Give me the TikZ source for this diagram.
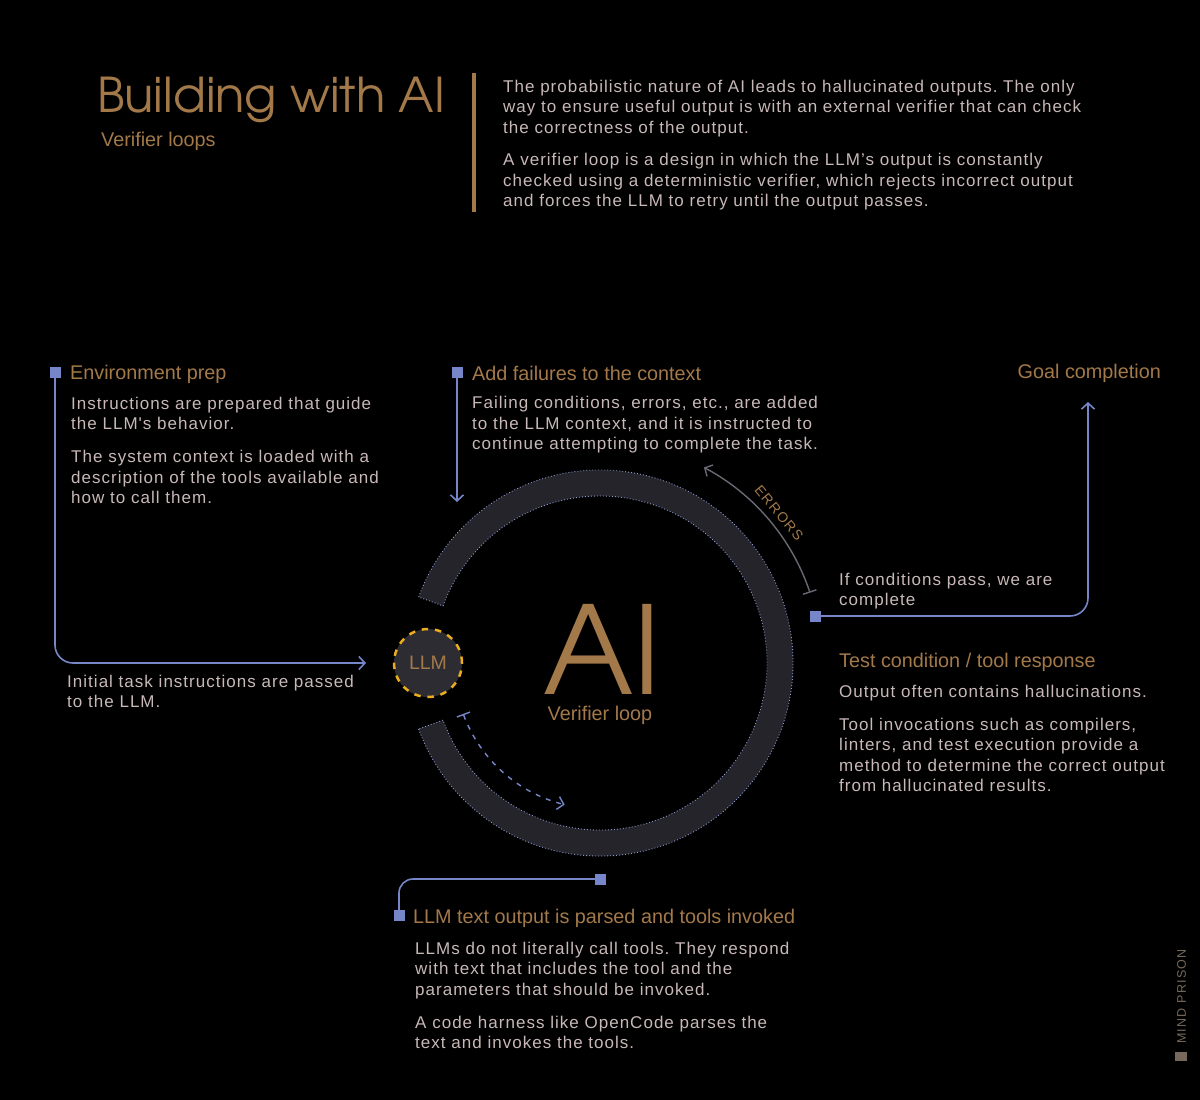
\documentclass[tikz,border=0pt]{standalone}
\usepackage{fontspec}
\usetikzlibrary{arrows.meta}
\setmainfont{Liberation Sans}
\newfontfamily\bodyf[LetterSpace=6]{Liberation Sans}
\newfontfamily\headf{Liberation Sans}
\newfontfamily\smallf[LetterSpace=10]{Liberation Sans}
\IfFontExistsTF{texgyreadventor-regular.otf}{\newfontfamily\geof{texgyreadventor-regular.otf}}{\newfontfamily\geof{Poppins}}
\definecolor{bgc}{RGB}{0,0,0}
\definecolor{gold}{RGB}{163,121,74}
\definecolor{bodyc}{RGB}{200,184,184}
\definecolor{blu}{RGB}{118,134,200}
\definecolor{ringc}{RGB}{36,36,42}
\definecolor{ringdot}{RGB}{140,155,210}
\definecolor{llmfill}{RGB}{44,44,50}
\definecolor{llmdash}{RGB}{235,172,30}
\definecolor{errc}{RGB}{105,105,115}
\definecolor{logoc}{RGB}{118,104,90}
\newcommand\blk[1]{\begin{tabular}[t]{@{}l@{}}#1\end{tabular}}
\tikzset{
  bluline/.style={draw=blu, line width=1.6pt},
  tipb/.style={-{Straight Barb[length=6pt,width=13pt]}},
  sq/.style={fill=blu, minimum size=11pt, inner sep=0pt},
  bodytxt/.style={anchor=base west, inner sep=0pt, text=bodyc, font=\bodyf\frenchspacing\fontsize{17}{20.5}\selectfont},
  headtxt/.style={anchor=base west, inner sep=0pt, text=gold, font=\headf\fontsize{19.8}{22}\selectfont},
}
\begin{document}
\begin{tikzpicture}[x=1pt,y=-1pt]
\useasboundingbox (0,0) rectangle (1200,1100);
\fill[bgc] (0,0) rectangle (1200,1100);

% title block
\node[anchor=base west, inner sep=0pt, text=gold, font=\geof\fontsize{48}{48}\selectfont] (title) at (97,112) {Building with AI};
\node[headtxt] (subtitle) at (101,146) {Verifier loops};
\fill[gold] (472,73) rectangle (476,212);
\node[bodytxt] (intro) at (503,92) {\blk{The probabilistic nature of AI leads to hallucinated outputs. The only\\way to ensure useful output is with an external verifier that can check\\the correctness of the output.\\[12pt]A verifier loop is a design in which the LLM’s output is constantly\\checked using a deterministic verifier, which rejects incorrect output\\and forces the LLM to retry until the output passes.}};

% ring
\coordinate (ctr) at (600,663);
\draw[ringdot, line width=0.9pt, dash pattern=on 0.9pt off 2.1pt, fill=ringc, shift={(600,663)}]
  (160:193) arc[start angle=160, end angle=-160, radius=193] -- (-160:167)
  arc[start angle=-160, end angle=160, radius=167] -- cycle;

\node[anchor=base, inner sep=0pt, text=gold, font=\geof\fontsize{122}{122}\selectfont] (ai) at (602,694) {AI};
\node[anchor=base, inner sep=0pt, text=gold, font=\headf\fontsize{19.8}{22}\selectfont] (vloop) at (600,720) {Verifier loop};

% LLM node
\node[circle, fill=llmfill, draw=llmdash, line width=2.5pt, dash pattern=on 6.5pt off 6.8pt, minimum size=68pt, inner sep=0pt, text=gold, font=\headf\fontsize{19.5}{22}\selectfont] (llm) at (428,663) {LLM};

% squares
\node[sq] (sqenv) at (55,372) {};
\node[sq] (sqfail) at (457,372) {};
\node[sq] (sqtest) at (815,616) {};
\node[sq] (sqbotR) at (600,879) {};
\node[sq] (sqbot) at (399,915) {};

\coordinate (llmin) at (366,663);
\coordinate (failin) at (457,502);
\coordinate (goalin) at (1088,402);

\draw[bluline, rounded corners=18pt, tipb] (sqenv.center) |- (llmin);
\draw[bluline, tipb] (sqfail.center) -- (failin);
\draw[bluline, rounded corners=18pt, tipb] (sqtest.center) -| (goalin);
\draw[bluline, rounded corners=14pt] (sqbotR.center) -| (sqbot.center);

% inner dashed arrow
\coordinate (dstart) at (463.2,713.9);
\draw[draw=blu, line width=1.4pt, dash pattern=on 5pt off 6pt, {Bar[width=14pt]}-{Straight Barb[length=6pt,width=13pt]}]
  (dstart) arc[start angle=159.6, end angle=104, radius=146];

% errors arrow
\coordinate (estart) at (810.0,592.7);
\draw[draw=errc, line width=1.4pt, {Bar[width=14pt]}-{Straight Barb[length=6pt,width=13pt]}]
  (estart) arc[start angle=-18.5, end angle=-62, radius=221.5];
\node[rotate=-50, inner sep=0pt, text=gold, font=\smallf\fontsize{14}{14}\selectfont] (errlbl) at (779,513) {ERRORS};

% text blocks
\node[headtxt] (envh) at (70,379) {Environment prep};
\node[bodytxt] (envb) at (71,409) {\blk{Instructions are prepared that guide\\the LLM's behavior.\\[12.5pt]The system context is loaded with a\\description of the tools available and\\how to call them.}};

\node[headtxt] (failh) at (472,380) {Add failures to the context};
\node[bodytxt] (failb) at (472,408.5) {\blk{Failing conditions, errors, etc., are added\\to the LLM context, and it is instructed to\\continue attempting to complete the task.}};

\node[headtxt, anchor=base east] (goalh) at (1161,378) {Goal completion};
\node[bodytxt] (passb) at (839,585) {\blk{If conditions pass, we are\\complete}};

\node[headtxt] (testh) at (839,667) {Test condition / tool response};
\node[bodytxt] (testb) at (839,697) {\blk{Output often contains hallucinations.\\[12.5pt]Tool invocations such as compilers,\\linters, and test execution provide a\\method to determine the correct output\\from hallucinated results.}};

\node[bodytxt] (initb) at (67,687) {\blk{Initial task instructions are passed\\to the LLM.}};

\node[headtxt] (both) at (413,923) {LLM text output is parsed and tools invoked};
\node[bodytxt] (botb) at (415,954) {\blk{LLMs do not literally call tools. They respond\\with text that includes the tool and the\\parameters that should be invoked.\\[12.5pt]A code harness like OpenCode parses the\\text and invokes the tools.}};

% logo
\node[rotate=90, inner sep=0pt, text=logoc, font=\smallf\fontsize{12.5}{12.5}\selectfont] (logo) at (1181.5,996.5) {MIND PRISON};
\node[fill=logoc, minimum width=12pt, minimum height=9pt, inner sep=0pt] (logosq) at (1181,1056.5) {};
\end{tikzpicture}
\end{document}
